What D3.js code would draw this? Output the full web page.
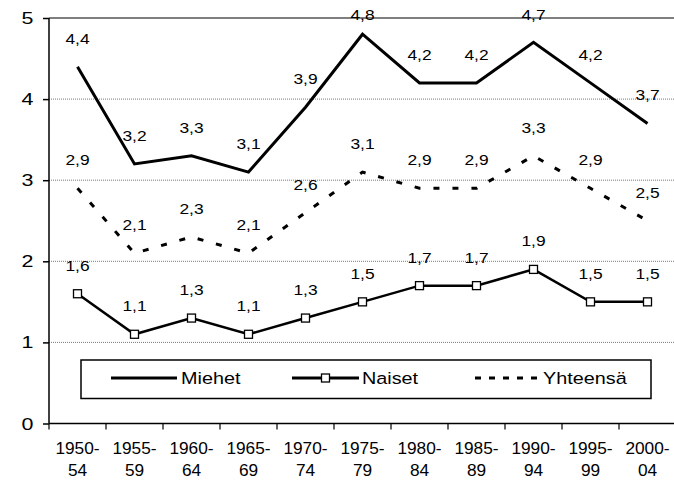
<!DOCTYPE html>
<html>
<head>
<meta charset="utf-8">
<script src="https://cdn.jsdelivr.net/npm/d3@7"></script>
<style>
  html, body { margin: 0; padding: 0; background: #fff; }
  svg { display: block; font-family: "Liberation Sans", Arial, sans-serif; }
</style>
</head>
<body>
<svg id="chart" width="674" height="480"></svg>
<script>
// Periods (two-line labels) and series values
const periods = ["1950-54", "1955-59", "1960-64", "1965-69", "1970-74", "1975-79",
                 "1980-84", "1985-89", "1990-94", "1995-99", "2000-04"];
const miehet   = [4.4, 3.2, 3.3, 3.1, 3.9, 4.8, 4.2, 4.2, 4.7, 4.2, 3.7];
const naiset   = [1.6, 1.1, 1.3, 1.1, 1.3, 1.5, 1.7, 1.7, 1.9, 1.5, 1.5];
const yhteensa = [2.9, 2.1, 2.3, 2.1, 2.6, 3.1, 2.9, 2.9, 3.3, 2.9, 2.5];
const yTicks = [0, 1, 2, 3, 4, 5];
const seriesNames = ["Miehet", "Naiset", "Yhteensä"];

const svg = d3.select("#chart");
const plotL = 49, plotR = 676, plotT = 18, plotB = 423.5;

const x = d3.scaleBand().domain(periods).range([plotL, plotR]);
const y = d3.scaleLinear().domain([0, 5]).range([plotB, plotT]);
const cx = p => x(p) + x.bandwidth() / 2;

// Place a horizontally widened text at (tx, ty)
function wtext(sel, tx, ty, widen) {
  return sel.attr("x", 0).attr("y", 0)
    .attr("transform", (d, i) => {
      const X = typeof tx === "function" ? tx(d, i) : tx;
      const Y = typeof ty === "function" ? ty(d, i) : ty;
      return `translate(${X},${Y}) scale(${widen},1)`;
    });
}

// Gridlines
svg.append("g").selectAll("line")
  .data(yTicks.filter(t => t > 0 && t < 5))
  .join("line")
  .attr("x1", plotL).attr("x2", 674)
  .attr("y1", d => y(d)).attr("y2", d => y(d))
  .attr("stroke", "#777").attr("stroke-width", 1)
  .attr("stroke-dasharray", "1,1");

// Top border
svg.append("line")
  .attr("x1", plotL).attr("x2", 674)
  .attr("y1", y(5)).attr("y2", y(5))
  .attr("stroke", "#000").attr("stroke-width", 1.2);

// Y axis (line + ticks), labels drawn widened
const yAxis = svg.append("g")
  .attr("transform", `translate(${plotL},0)`)
  .call(d3.axisLeft(y).tickValues(yTicks).tickSize(6).tickFormat(""));
yAxis.selectAll("line,path").attr("stroke", "#000").attr("stroke-width", 1.5);
yAxis.select("path").attr("d", `M0,${plotT}V${plotB}`);
wtext(svg.append("g").selectAll("text").data(yTicks).join("text"),
      33.5, d => y(d) + 6, 1.3)
  .attr("text-anchor", "end")
  .attr("font-size", 16.5).attr("fill", "#000")
  .text(d3.format("d"));

// X axis with tick marks at band boundaries
const xAxisG = svg.append("g");
xAxisG.append("line")
  .attr("x1", plotL).attr("x2", 674).attr("y1", plotB).attr("y2", plotB)
  .attr("stroke", "#000").attr("stroke-width", 1.5);
xAxisG.selectAll("line.tick")
  .data(periods)
  .join("line").attr("class", "tick")
  .attr("x1", d => x(d)).attr("x2", d => x(d))
  .attr("y1", plotB).attr("y2", plotB + 6)
  .attr("stroke", "#000").attr("stroke-width", 1.2);
wtext(xAxisG.append("g").selectAll("text").data(periods).join("text"), d => cx(d), 453.5, 1.08)
  .attr("text-anchor", "middle").attr("font-size", 16).attr("fill", "#000")
  .text(d => d.slice(0, 5));
wtext(xAxisG.append("g").selectAll("text").data(periods).join("text"), d => cx(d), 475.5, 1.08)
  .attr("text-anchor", "middle").attr("font-size", 16).attr("fill", "#000")
  .text(d => d.slice(5));

const line = d3.line().x((d, i) => cx(periods[i])).y(d => y(d));

// Yhteensä (dashed)
svg.append("path").datum(yhteensa)
  .attr("d", line).attr("fill", "none")
  .attr("stroke", "#000").attr("stroke-width", 3)
  .attr("stroke-dasharray", "6,13");

// Miehet (solid)
svg.append("path").datum(miehet)
  .attr("d", line).attr("fill", "none")
  .attr("stroke", "#000").attr("stroke-width", 3)
  .attr("stroke-linejoin", "miter");

// Naiset (solid with square markers)
svg.append("path").datum(naiset)
  .attr("d", line).attr("fill", "none")
  .attr("stroke", "#000").attr("stroke-width", 2.5);
svg.append("g").selectAll("rect")
  .data(naiset)
  .join("rect")
  .attr("x", (d, i) => cx(periods[i]) - 4)
  .attr("y", d => y(d) - 4)
  .attr("width", 8).attr("height", 8)
  .attr("fill", "#fff").attr("stroke", "#000").attr("stroke-width", 1.3);

// Value labels above points, kept inside the top of the plot
const fmt = v => d3.format(".1f")(v).replace(".", ",");
[miehet, naiset, yhteensa].forEach(vals => {
  wtext(svg.append("g").selectAll("text").data(vals).join("text"),
        (d, i) => cx(periods[i]), d => Math.max(y(d) - 23, 20), 1.2)
    .attr("text-anchor", "middle")
    .attr("font-size", 14.5)
    .attr("fill", "#000")
    .text(fmt);
});

// Legend
const lg = svg.append("g");
lg.append("rect")
  .attr("x", 81).attr("y", 360).attr("width", 570).attr("height", 38.5)
  .attr("fill", "#fff").attr("stroke", "#000").attr("stroke-width", 1.5);
const ly = 378;
const items = [
  { name: seriesNames[0], x1: 111, x2: 177, dash: null, marker: false, tx: 181 },
  { name: seriesNames[1], x1: 292, x2: 359, dash: null, marker: true, tx: 362 },
  { name: seriesNames[2], x1: 475, x2: 542, dash: "6,8", marker: false, tx: 543 }
];
items.forEach(it => {
  lg.append("line")
    .attr("x1", it.x1).attr("x2", it.x2).attr("y1", ly).attr("y2", ly)
    .attr("stroke", "#000").attr("stroke-width", 3)
    .attr("stroke-dasharray", it.dash);
  if (it.marker) {
    lg.append("rect")
      .attr("x", (it.x1 + it.x2) / 2 - 4).attr("y", ly - 4)
      .attr("width", 8).attr("height", 8)
      .attr("fill", "#fff").attr("stroke", "#000").attr("stroke-width", 1.3);
  }
  wtext(lg.append("text").datum(it.name), it.tx, ly + 6, 1.2)
    .attr("font-size", 16.5).attr("fill", "#000")
    .text(it.name);
});
</script>
</body>
</html>
